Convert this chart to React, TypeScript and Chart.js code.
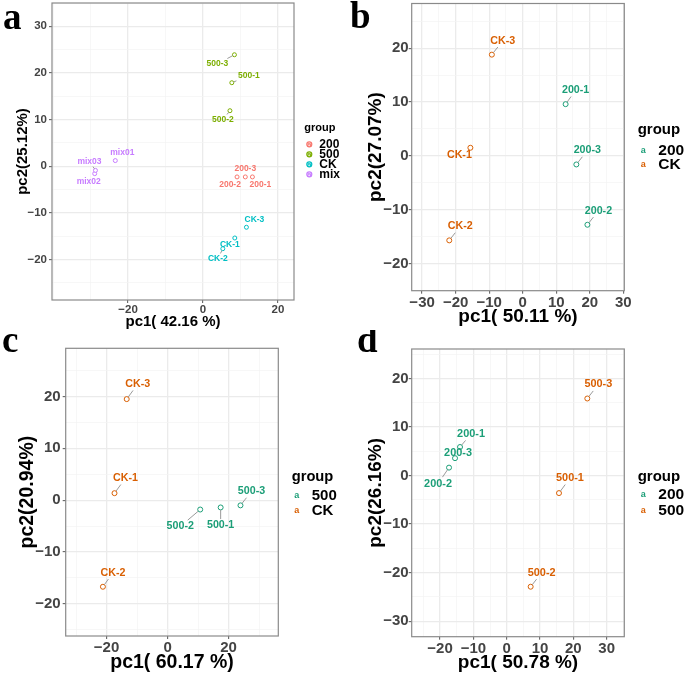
import React, { useEffect, useRef } from 'react';
import { Chart, registerables } from 'chart.js';

Chart.register(...registerables);

// ---------- Data ----------
// Panel a
const aGroups = ['200', '500', 'CK', 'mix'];
const aNames = ['200-1', '200-2', '200-3', '500-1', '500-2', '500-3', 'CK-1', 'CK-2', 'CK-3', 'mix01', 'mix02', 'mix03'];
const aGroupIdx = [0, 0, 0, 1, 1, 1, 2, 2, 2, 3, 3, 3];
const aPc1 = [13.2, 9.1, 11.3, 7.7, 7.2, 8.4, 8.5, 5.3, 11.6, -23.4, -28.9, -28.7];
const aPc2 = [-2.3, -2.3, -2.3, 17.9, 11.9, 23.9, -15.4, -17.7, -13.1, 1.2, -1.6, -0.9];
const aXTicks = [-20, 0, 20];
const aYTicks = [-20, -10, 0, 10, 20, 30];

// Panel b
const bGroups = ['200', 'CK'];
const bNames = ['200-1', '200-2', '200-3', 'CK-1', 'CK-2', 'CK-3'];
const bGroupIdx = [0, 0, 0, 1, 1, 1];
const bPc1 = [12.8, 19.3, 16.0, -15.6, -21.9, -9.2];
const bPc2 = [9.6, -12.8, -1.6, 1.5, -15.7, 18.8];
const bXTicks = [-30, -20, -10, 0, 10, 20, 30];
const bYTicks = [-20, -10, 0, 10, 20];

// Panel c
const cGroups = ['500', 'CK'];
const cNames = ['500-1', '500-2', '500-3', 'CK-1', 'CK-2', 'CK-3'];
const cGroupIdx = [0, 0, 0, 1, 1, 1];
const cPc1 = [17.4, 10.7, 23.9, -17.4, -21.2, -13.4];
const cPc2 = [-1.4, -1.8, -1.0, 1.35, -16.7, 19.5];
const cXTicks = [-20, 0, 20];
const cYTicks = [-20, -10, 0, 10, 20];

// Panel d
const dGroups = ['200', '500'];
const dNames = ['200-1', '200-2', '200-3', '500-1', '500-2', '500-3'];
const dGroupIdx = [0, 0, 0, 1, 1, 1];
const dPc1 = [-14.0, -17.3, -15.5, 15.7, 7.2, 24.2];
const dPc2 = [5.9, 1.65, 3.6, -3.6, -22.9, 15.9];
const dXTicks = [-20, -10, 0, 10, 20, 30];
const dYTicks = [-30, -20, -10, 0, 10, 20];

// ---------- Styles ----------
const SANS = '"Liberation Sans", Arial, Helvetica, sans-serif';
const SERIF = '"Liberation Serif", "DejaVu Serif", serif';
const hueColors = ['#F8766D', '#7CAE00', '#00BFC4', '#C77CFF'];
const dark2Colors = ['#1B9E77', '#D95F02'];

// label offsets (px) relative to each point, in name order
const aLabelOffsets = [[8, 8], [-7, 8], [0, -8], [17, -7], [-7, 9], [-17, 9], [-5, 7], [-5, 10], [8, -8], [7, -8], [-6, 8], [-6, -9]];
const bLabelOffsets = [[10, -14], [11, -14], [11, -14], [-11, 7], [11, -14], [11, -14]];
const cLabelOffsets = [[0, 18], [-20, 17], [11, -14], [11, -15], [10, -14], [11, -15]];
const dLabelOffsets = [[11, -13], [-11, 16], [3, -5], [11, -15], [11, -14], [11, -14]];

type Panel = {
  key: string;
  letter: string; letterX: number; letterY: number;
  left: number; top: number; width: number; height: number;
  area: { l: number; t: number; r: number; b: number };
  xMin: number; xMax: number; yMin: number; yMax: number;
  xMajor: number[]; yMajor: number[]; xMinorStep: number; yMinorStep: number;
  xTitle: string; yTitle: string; xTitleY: number; yTitleX: number;
  groups: string[]; colors: string[]; names: string[]; groupIdx: number[];
  pc1: number[]; pc2: number[]; offsets: number[][];
  tickFont: number; titleFont: number; labelFont: number; pointR: number;
  xPad: number; yPad: number;
  legend: { x: number; y: number; symX: number; textX: number; rows: number[]; titleFont: number; textFont: number; symFont: number; withCircle: boolean };
};

const panels: Panel[] = [
  {
    key: 'a', letter: 'a', letterX: 3, letterY: 29,
    left: 0, top: 0, width: 340, height: 330,
    area: { l: 52, t: 1, r: 294, b: 300 },
    xMin: -40.3, xMax: 24.3, yMin: -28.7, yMax: 35,
    xMajor: aXTicks, yMajor: aYTicks, xMinorStep: 10, yMinorStep: 5,
    xTitle: 'pc1( 42.16 %)', yTitle: 'pc2(25.12%)', xTitleY: 322, yTitleX: 22.5,
    groups: aGroups, colors: hueColors, names: aNames, groupIdx: aGroupIdx,
    pc1: aPc1, pc2: aPc2, offsets: aLabelOffsets,
    tickFont: 11.5, titleFont: 15, labelFont: 8.5, pointR: 2,
    xPad: 0, yPad: 2,
    legend: { x: 304.3, y: 128, symX: 309.3, textX: 319.3, rows: [144.3, 154.3, 164.3, 174.3], titleFont: 11, textFont: 12, symFont: 8, withCircle: true },
  },
  {
    key: 'b', letter: 'b', letterX: 10, letterY: 28,
    left: 340, top: 0, width: 345, height: 330,
    area: { l: 71.7, t: 1.7, r: 284.3, b: 290.7 },
    xMin: -33.1, xMax: 30.3, yMin: -25.05, yMax: 28.3,
    xMajor: bXTicks, yMajor: bYTicks, xMinorStep: 5, yMinorStep: 5,
    xTitle: 'pc1( 50.11 %)', yTitle: 'pc2(27.07%)', xTitleY: 317, yTitleX: 35.8,
    groups: bGroups, colors: dark2Colors, names: bNames, groupIdx: bGroupIdx,
    pc1: bPc1, pc2: bPc2, offsets: bLabelOffsets,
    tickFont: 15, titleFont: 19, labelFont: 10.7, pointR: 2.5,
    xPad: 0, yPad: 0,
    legend: { x: 297.7, y: 130, symX: 303.3, textX: 318.3, rows: [151, 164.3], titleFont: 15, textFont: 15.5, symFont: 9, withCircle: false },
  },
  {
    key: 'c', letter: 'c', letterX: 2, letterY: 22,
    left: 0, top: 330, width: 340, height: 346,
    area: { l: 65.7, t: 18.3, r: 278.3, b: 306 },
    xMin: -33.4, xMax: 36.3, yMin: -26.2, yMax: 29.3,
    xMajor: cXTicks, yMajor: cYTicks, xMinorStep: 10, yMinorStep: 5,
    xTitle: 'pc1( 60.17 %)', yTitle: 'pc2(20.94%)', xTitleY: 333, yTitleX: 27.5,
    groups: cGroups, colors: dark2Colors, names: cNames, groupIdx: cGroupIdx,
    pc1: cPc1, pc2: cPc2, offsets: cLabelOffsets,
    tickFont: 15, titleFont: 19.5, labelFont: 10.7, pointR: 2.5,
    xPad: 0, yPad: 2,
    legend: { x: 291.7, y: 146.7, symX: 296.7, textX: 311.7, rows: [165.7, 181], titleFont: 14.7, textFont: 15, symFont: 9, withCircle: false },
  },
  {
    key: 'd', letter: 'd', letterX: 17, letterY: 22,
    left: 340, top: 330, width: 345, height: 346,
    area: { l: 71.7, t: 19, r: 284.3, b: 306.7 },
    xMin: -28.5, xMax: 35.3, yMin: -33.2, yMax: 26.1,
    xMajor: dXTicks, yMajor: dYTicks, xMinorStep: 5, yMinorStep: 5,
    xTitle: 'pc1( 50.78 %)', yTitle: 'pc2(26.16%)', xTitleY: 333, yTitleX: 35.5,
    groups: dGroups, colors: dark2Colors, names: dNames, groupIdx: dGroupIdx,
    pc1: dPc1, pc2: dPc2, offsets: dLabelOffsets,
    tickFont: 15, titleFont: 19, labelFont: 10.9, pointR: 2.5,
    xPad: 0, yPad: 0,
    legend: { x: 297.7, y: 146.7, symX: 303.3, textX: 318.3, rows: [164.3, 180.3], titleFont: 15, textFont: 15.5, symFont: 9, withCircle: false },
  },
];

// ---------- Helpers ----------
const fmt = (v: number) => (v < 0 ? '\u2212' + Math.abs(v) : String(v));
const isIn = (arr: number[], v: number) => arr.some((m) => Math.abs(m - v) < 1e-9);

function allTicks(min: number, max: number, step: number) {
  const out: number[] = [];
  const start = Math.ceil(min / step) * step;
  for (let v = start; v <= max + 1e-9; v += step) out.push(Math.round(v * 1000) / 1000);
  return out;
}

function makeScale(p: Panel, axis: 'x' | 'y') {
  const min = axis === 'x' ? p.xMin : p.yMin;
  const max = axis === 'x' ? p.xMax : p.yMax;
  const major = axis === 'x' ? p.xMajor : p.yMajor;
  const step = axis === 'x' ? p.xMinorStep : p.yMinorStep;
  const values = allTicks(min, max, step);
  return {
    type: 'linear',
    position: axis === 'x' ? 'bottom' : 'left',
    min, max,
    afterBuildTicks: (s: any) => {
      s.ticks = values.map((v) => ({ value: v }));
    },
    afterFit: (s: any) => {
      if (axis === 'x') s.height = p.height - p.area.b;
      else s.width = p.area.l;
      s.paddingTop = 0; s.paddingBottom = 0; s.paddingLeft = 0; s.paddingRight = 0;
    },
    ticks: {
      autoSkip: false,
      maxRotation: 0,
      minRotation: 0,
      padding: axis === 'x' ? p.xPad : p.yPad,
      color: '#444444',
      font: { family: SANS, size: p.tickFont, weight: 'bold' },
      callback: (v: any) => (isIn(major, Number(v)) ? fmt(Number(v)) : ''),
    },
    grid: {
      color: (c: any) => (c.tick && isIn(major, c.tick.value) ? '#EBEBEB' : '#F3F3F3'),
      lineWidth: (c: any) => (c.tick && isIn(major, c.tick.value) ? 1.3 : 0.7),
      tickLength: 3,
      tickColor: (c: any) => (c.tick && isIn(major, c.tick.value) ? '#555555' : 'rgba(0,0,0,0)'),
      tickWidth: 1,
      drawTicks: true,
    },
    border: { display: false },
    title: { display: false },
  };
}

function makePlugin(p: Panel) {
  return {
    id: 'deco_' + p.key,
    beforeDatasetsDraw(chart: any) {
      const { ctx, chartArea: ca } = chart;
      ctx.save();
      ctx.strokeStyle = '#8A8A8A';
      ctx.lineWidth = 1.2;
      ctx.strokeRect(ca.left, ca.top, ca.right - ca.left, ca.bottom - ca.top);
      ctx.restore();
    },
    afterDatasetsDraw(chart: any) {
      const { ctx } = chart;
      ctx.save();
      ctx.font = `bold ${p.labelFont}px ${SANS}`;
      ctx.textAlign = 'center';
      ctx.textBaseline = 'middle';
      chart.data.datasets.forEach((ds: any, di: number) => {
        const meta = chart.getDatasetMeta(di);
        ds.data.forEach((d: any, j: number) => {
          const el = meta.data[j];
          const i = d.i;
          const name = p.names[i];
          const [ox, oy] = p.offsets[i];
          const px = el.x, py = el.y;
          const lx = px + ox, ly = py + oy;
          const w = ctx.measureText(name).width / 2 + 1.5;
          const h = p.labelFont * 0.5 + 1;
          const dx = lx - px, dy = ly - py;
          const len = Math.hypot(dx, dy);
          if (len > 0.1) {
            const s = Math.min(dx !== 0 ? w / Math.abs(dx) : Infinity, dy !== 0 ? h / Math.abs(dy) : Infinity);
            if (s < 1) {
              const ex = lx - s * dx, ey = ly - s * dy;
              const sx = px + (dx / len) * p.pointR, sy = py + (dy / len) * p.pointR;
              if (Math.hypot(ex - sx, ey - sy) > 2) {
                ctx.strokeStyle = '#9A9A9A';
                ctx.lineWidth = 1;
                ctx.beginPath();
                ctx.moveTo(sx, sy);
                ctx.lineTo(ex, ey);
                ctx.stroke();
              }
            }
          }
          ctx.fillStyle = p.colors[p.groupIdx[i]];
          ctx.fillText(name, lx, ly);
        });
      });
      ctx.restore();
    },
    afterDraw(chart: any) {
      const { ctx, chartArea: ca } = chart;
      ctx.save();
      // axis titles
      ctx.fillStyle = '#000000';
      ctx.font = `bold ${p.titleFont}px ${SANS}`;
      ctx.textAlign = 'center';
      ctx.textBaseline = 'middle';
      ctx.fillText(p.xTitle, (ca.left + ca.right) / 2, p.xTitleY);
      ctx.save();
      ctx.translate(p.yTitleX, (ca.top + ca.bottom) / 2);
      ctx.rotate(-Math.PI / 2);
      ctx.fillText(p.yTitle, 0, 0);
      ctx.restore();
      // legend
      const L = p.legend;
      ctx.textAlign = 'left';
      ctx.font = `bold ${L.titleFont}px ${SANS}`;
      ctx.fillStyle = '#000000';
      ctx.fillText('group', L.x, L.y);
      p.groups.forEach((g, k) => {
        const y = L.rows[k];
        const col = p.colors[k];
        if (L.withCircle) {
          ctx.strokeStyle = col;
          ctx.lineWidth = 1.2;
          ctx.beginPath();
          ctx.arc(L.symX, y, 2.5, 0, Math.PI * 2);
          ctx.stroke();
        }
        ctx.fillStyle = col;
        ctx.font = `bold ${L.symFont}px ${SANS}`;
        ctx.textAlign = 'center';
        ctx.fillText('a', L.symX, y);
        ctx.fillStyle = '#000000';
        ctx.textAlign = 'left';
        ctx.font = `bold ${L.textFont}px ${SANS}`;
        ctx.fillText(g, L.textX, y);
      });
      // panel letter
      ctx.font = `bold 37px ${SERIF}`;
      ctx.textBaseline = 'alphabetic';
      ctx.textAlign = 'left';
      ctx.fillStyle = '#000000';
      ctx.fillText(p.letter, p.letterX, p.letterY);
      ctx.restore();
    },
  };
}

function buildConfig(p: Panel): any {
  const datasets = p.groups.map((g, k) => ({
    label: g,
    data: p.names
      .map((_, i) => i)
      .filter((i) => p.groupIdx[i] === k)
      .map((i) => ({ x: p.pc1[i], y: p.pc2[i], i })),
    borderColor: p.colors[k],
    backgroundColor: '#FFFFFF',
    pointRadius: p.pointR,
    pointBorderWidth: 1,
    pointHoverRadius: p.pointR,
    showLine: false,
  }));
  return {
    type: 'scatter',
    data: { datasets },
    options: {
      animation: false,
      responsive: false,
      maintainAspectRatio: false,
      devicePixelRatio: 1,
      events: [],
      layout: { padding: { left: 0, top: p.area.t, right: p.width - p.area.r, bottom: 0 } },
      plugins: { legend: { display: false }, tooltip: { enabled: false }, title: { display: false } },
      scales: { x: makeScale(p, 'x'), y: makeScale(p, 'y') },
    },
    plugins: [makePlugin(p)],
  };
}

function PanelChart({ p }: { p: Panel }) {
  const ref = useRef<HTMLCanvasElement | null>(null);
  useEffect(() => {
    if (!ref.current) return;
    const chart = new Chart(ref.current, buildConfig(p));
    return () => chart.destroy();
  }, [p]);
  return (
    <canvas
      ref={ref}
      width={p.width}
      height={p.height}
      style={{ position: 'absolute', left: p.left, top: p.top, width: p.width, height: p.height }}
    />
  );
}

export default function App() {
  return (
    <div style={{ position: 'absolute', left: 0, top: 0, width: 685, height: 676, background: '#FFFFFF', overflow: 'hidden' }}>
      {panels.map((p) => (
        <PanelChart key={p.key} p={p} />
      ))}
    </div>
  );
}
